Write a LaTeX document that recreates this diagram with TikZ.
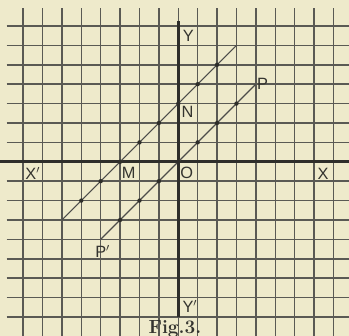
\documentclass[tikz,border=0pt]{standalone}
\usepackage{fontspec}
\newfontfamily\labelfont{Liberation Sans}
\usetikzlibrary{positioning}
\definecolor{Paper}{HTML}{EEEACB}
\definecolor{GridInk}{HTML}{5A5A54}
\definecolor{AxisInk}{HTML}{2E2E2A}
\definecolor{LabelInk}{HTML}{34342F}

\begin{document}
\begin{tikzpicture}[x=.5cm,y=.5cm,
    lbl/.style={font=\labelfont\fontsize{12}{14}\selectfont,text=LabelInk,inner sep=0pt},
    gridline/.style={GridInk,line width=1.1pt},
    axis/.style={AxisInk,line width=2pt},
    slant/.style={AxisInk!85,line width=.9pt}]
    \fill[Paper] (-9.19,-8.98) rectangle (8.80,8.34);
    \useasboundingbox (-9.19,-8.98) rectangle (8.80,8.34);
    % squared paper
    \foreach \i in {-8,...,8}
      \draw[gridline] (\i,-8.98) -- (\i,7.95);
    \foreach \j in {-8,...,7}
      \draw[gridline] (-8.85,\j) -- (8.80,\j);
    \draw[axis] (-9.19,0) -- (8.80,0);
    \draw[axis] (0,-8) -- (0,7.25);
    % the two parallel lines
    \coordinate (A) at (-6,-3);
    \coordinate (B) at (3,6);
    \coordinate (P) at (4,4);
    \coordinate (Pp) at (-4,-4);
    \draw[slant] (A) -- (B);
    \draw[slant] (Pp) -- (P);
    \foreach \t in {-5,...,2}
      \fill[AxisInk] (\t,\t+3) circle (1.6pt);
    \foreach \t in {-3,...,3}
      \fill[AxisInk] (\t,\t) circle (1.6pt);
    % labels
    \node[lbl] (labY) at (0.52,6.5) {Y};
    \node[lbl] (labYp) at (0.6,-7.47) {Y$'$};
    \node[lbl] (labX) at (7.47,-0.6) {X};
    \node[lbl] (labXp) at (-7.5,-0.6) {X$'$};
    \node[lbl] (labO) at (0.43,-0.56) {O};
    \node[lbl] (labM) at (-2.55,-0.56) {M};
    \node[lbl] (labN) at (0.48,2.58) {N};
    \node[lbl] (labP) at (4.34,4.0) {P};
    \node[lbl] (labPp) at (-3.9,-4.6) {P$'$};
    \node[font=\fontsize{14}{16}\selectfont\bfseries,text=LabelInk,inner sep=0pt] (caption) at (-0.17,-8.62) {Fig.3.};
\end{tikzpicture}
\end{document}
